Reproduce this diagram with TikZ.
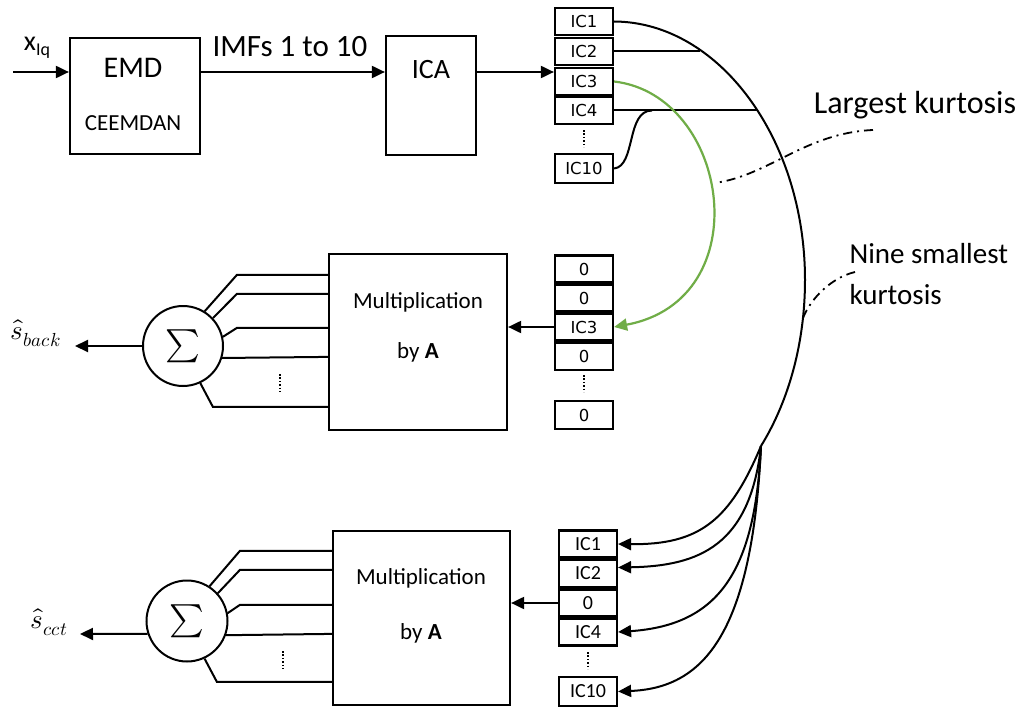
\documentclass[tikz,border=0pt]{standalone}
\usepackage{fontspec}
\usepackage{unicode-math}
\setmainfont{Carlito}
\setmathfont{Latin Modern Math}
\newfontfamily\dv{DejaVu Sans}
\usetikzlibrary{arrows.meta,calc}
\definecolor{icgreen}{HTML}{70AD47}
\begin{document}
\begin{tikzpicture}[x=1pt,y=-1pt,
  box/.style={draw,line width=2.2pt,inner sep=0pt},
  icbox/.style={draw,line width=2.2pt,minimum width=58pt,minimum height=27pt,inner sep=0pt,font=\dv\fontsize{16.5}{18}\selectfont},
  icboxb/.style={icbox,font=\fontsize{20}{22}\selectfont},
  conn/.style={line width=2pt},
  arr/.style={conn,-{Triangle[length=13pt,width=12pt]}},
  garr/.style={line width=2.2pt,icgreen,-{Triangle[length=13pt,width=12pt]}},
  dashdot/.style={line width=1.8pt,dash pattern=on 9pt off 5pt on 2pt off 5pt},
  dotline/.style={line width=1.4pt,dash pattern=on 1.6pt off 1.8pt},
  sigma/.style={draw,circle,line width=2pt,inner sep=0pt,font=\fontsize{33}{33}\selectfont},
  big/.style={font=\fontsize{31}{34}\selectfont},
  mid/.style={font=\fontsize{23}{26}\selectfont},
  math/.style={font=\fontsize{27}{29}\selectfont}
]
\fill[white] (0,0) rectangle (1029,709);
\useasboundingbox (0,0) rectangle (1029,709);

% ---------- top row ----------
\coordinate (xstart) at (13,72);
\node (xin) at (37,48) {{\fontsize{28}{30}\selectfont x}\raisebox{-5pt}{\fontsize{18}{20}\selectfont Iq}};
\node[box,minimum width=130pt,minimum height=116pt] (emd) at (135,96) {};
\node[font=\fontsize{30}{32}\selectfont] (emdt) at (133,68) {EMD};
\node[mid] (ceem) at (133,123) {CEEMDAN};
\node[big] (imf) at (290,47) {IMFs 1 to 10};
\node[box,minimum width=90pt,minimum height=119pt] (ica) at (431,95.5) {};
\node[font=\fontsize{28}{30}\selectfont] (icat) at (431,70) {ICA};

\draw[arr] (xstart) -- (xstart -| emd.west);
\draw[arr] (xstart -| emd.east) -- (xstart -| ica.west);

% ---------- top IC column ----------
\node[icbox] (t1) at (584,21.5) {IC1};
\node[icbox] (t2) at (584,51.5) {IC2};
\node[icbox] (t3) at (584,81.5) {IC3};
\node[icbox] (t4) at (584,110.5) {IC4};
\node[icbox,minimum height=29pt] (t10) at (584,168.5) {IC10};
\draw[dotline] (584,130) -- (584,147);

\draw[arr] (xstart -| ica.east) -- (xstart -| t3.west);

% big arc and links
\coordinate (J) at (761,446);
\coordinate (A2) at (700,51.5);
\coordinate (A4) at (757,110.5);
\coordinate (A10) at (652,110.5);
\draw[conn] (t1.east) .. controls (719,22) and (805,139) .. (805,280)
            .. controls (805,340) and (790,399) .. (J);
\draw[conn] (t2.east) -- (A2);
\draw[conn] (t4.east) -- (A4);
\draw[conn] (t10.east) .. controls (636,166) and (626,110.5) .. (A10);

% ---------- middle IC column ----------
\node[icbox] (m1) at (584,269) {0};
\node[icbox] (m2) at (584,298) {0};
\node[icbox] (m3) at (584,327) {IC3};
\node[icbox] (m4) at (584,356.5) {0};
\node[icbox,minimum height=28pt] (m10) at (584,415) {0};
\draw[dotline] (584,375) -- (584,392);

% green link
\draw[garr] (t3.east) .. controls (730,95) and (760,300) .. (m3.east);

% dash-dot pointers
\coordinate (L1) at (873,130);
\coordinate (G1) at (715,183);
\coordinate (N1) at (855,272);
\coordinate (N2) at (803,318);
\node[font=\fontsize{32}{34}\selectfont] (largest) at (915,105) {Largest kurtosis};
\node[anchor=west,align=left,font=\fontsize{29}{41}\selectfont] (nine) at (846,274) {Nine smallest\\kurtosis};
\draw[dashdot] (L1) .. controls (805,133) and (770,175) .. (G1);
\draw[dashdot] (N1) .. controls (830,278) and (810,300) .. (N2);

% ---------- middle multiplication ----------
\node[box,minimum width=178pt,minimum height=176pt] (mult1) at (418,342) {};
\node[mid] (mt1) at (418,302) {Multiplication};
\node[mid] (mb1) at (418,352) {by \textbf{A}};
\draw[arr] (m3.west) -- (m3.west -| mult1.east);

\node[sigma,minimum size=80pt] (sig1) at (183,346) {$\sum$};
\draw[conn] ([yshift=-22pt]mult1.north west) -- ++(-91,0) -- (sig1.58);
\draw[conn] ([yshift=-41pt]mult1.north west) -- ++(-91,0) -- (sig1.43);
\draw[conn] ([yshift=-75pt]mult1.north west) -- ++(-91,0) -- (sig1.13);
\draw[conn] ([yshift=-104pt]mult1.north west) -- (sig1.-17);
\draw[conn] ([yshift=-154pt]mult1.north west) -- ++(-115,0) -- (sig1.-65);
\draw[dotline] (280,374) -- (280,392);
\coordinate (o1) at (75,346);
\draw[arr] (sig1.west) -- (o1);
\node[math] (sback) at (36,333) {$\hat{s}_{back}$};

% ---------- bottom IC column ----------
\node[icboxb] (b1) at (588,544) {IC1};
\node[icboxb] (b2) at (588,573.5) {IC2};
\node[icboxb] (b3) at (588,603) {0};
\node[icboxb] (b4) at (588,632) {IC4};
\node[icboxb,minimum height=29pt] (b10) at (588,691.5) {IC10};
\draw[dotline] (588,652) -- (588,669);

\draw[arr] (J) .. controls (730,520) and (700,545) .. (b1.east);
\draw[arr] (J) .. controls (750,545) and (700,566) .. ([yshift=6pt]b2.east);
\draw[arr] (J) .. controls (755,570) and (720,625) .. (b4.east);
\draw[arr] (J) .. controls (752,640) and (700,688) .. (b10.east);

% ---------- bottom multiplication ----------
\node[box,minimum width=177pt,minimum height=174pt] (mult2) at (421.5,618) {};
\node[mid] (mt2) at (421,578) {Multiplication};
\node[mid] (mb2) at (421,633) {by \textbf{A}};
\draw[arr] (b3.west) -- (b3.west -| mult2.east);

\node[sigma,minimum size=81pt] (sig2) at (187,621) {$\sum$};
\draw[conn] ([yshift=-21pt]mult2.north west) -- ++(-92,0) -- (sig2.57);
\draw[conn] ([yshift=-40pt]mult2.north west) -- ++(-92,0) -- (sig2.42);
\draw[conn] ([yshift=-75pt]mult2.north west) -- ++(-92,0) -- (sig2.11);
\draw[conn] ([yshift=-104pt]mult2.north west) -- (sig2.-20);
\draw[conn] ([yshift=-152pt]mult2.north west) -- ++(-115,0) -- (sig2.-65);
\draw[dotline] (283,651) -- (283,669);
\coordinate (o2) at (80,634);
\draw[arr] (sig2.198) -- (o2);
\node[math] (scct) at (49,622) {$\hat{s}_{cct}$};
\end{tikzpicture}
\end{document}
